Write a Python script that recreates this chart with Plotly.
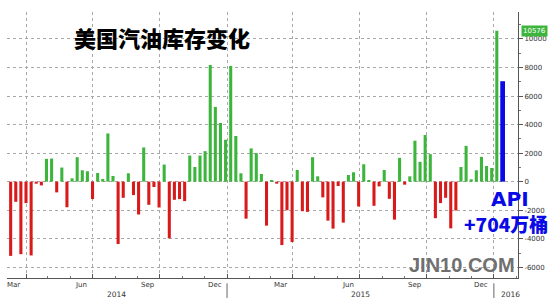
import pandas as pd
import plotly.graph_objects as go

# ---------------- data ----------------
week_start = "2014-03-11"
weekly_change = [
    -5200, -1410, -5080, -1500, -5170, -140, -260, 1600, 1620, -750,
    990, -1790, 235, 1715, 800, 730, -1220, 610, 190, 3380,
    400, -4370, -1130, 590, -940, -2300, 2400, -1620, -375, -1810,
    1200, -3970, -1270, -1220, -1360, 1830, 1030, 1830, 2140, 8180,
    5240, 4110, 2940, 8110, 3200, 590, -2590, 2330, 2000, 540,
    -3080, 95, -140, -4440, -2000, -4230, 820, -2070, -2115, 1715,
    375, -1100, -2730, -3290, -305, -2870, 470, 660, -1740, 1220,
    95, -1690, -330, 820, -1200, -2660, 1670, -210, 375, 2870,
    1390, 3270, 1930, -2560, -1500, -1130, -3270, -2020, 1030, 2510,
    165, 800, 1740, 1100, 960, 10576,
]
api_date = ["2016-01-13"]
api_value = [7040]
last_label = "10576"

month_label_dates = ["2014-03-15", "2014-06-15", "2014-09-15", "2014-12-15",
                     "2015-03-15", "2015-06-15", "2015-09-15", "2015-12-15"]
month_labels = ["Mar", "Jun", "Sep", "Dec", "Mar", "Jun", "Sep", "Dec"]
quarter_starts = ["2014-04-01", "2014-07-01", "2014-10-01", "2015-01-01",
                  "2015-04-01", "2015-07-01", "2015-10-01", "2016-01-01"]
year_labels = ["2014", "2015", "2016"]
year_label_dates = ["2014-08-03", "2015-07-02", "2016-01-01"]
year_starts = ["2015-01-01", "2016-01-01"]
y_ticks = [-6000, -4000, -2000, 0, 2000, 4000, 6000, 8000, 10000]

title_text = "美国汽油库存变化"
api_line1 = "API"
api_line2 = "+704万桶"
watermark = "JIN10.COM"

# ---------------- styles ----------------
GREEN = "#3db53d"
RED = "#d91a1a"
BLUE = "#0a0ae6"
DAY_MS = 86400000

dates = pd.date_range(week_start, periods=len(weekly_change), freq="7D")
colors = [GREEN if v >= 0 else RED for v in weekly_change]

fig = go.Figure()
fig.add_trace(go.Bar(x=dates, y=weekly_change, marker_color=colors,
                     marker_line_width=0, width=4.2 * DAY_MS,
                     showlegend=False, hoverinfo="x+y"))
fig.add_trace(go.Bar(x=pd.to_datetime(api_date), y=api_value, marker_color=BLUE,
                     marker_line_width=0, width=6.5 * DAY_MS,
                     showlegend=False))

annotations = []
for d, t in zip(month_label_dates, month_labels):
    annotations.append(dict(x=d, xref="x", y=0, yref="paper", text=t,
                            showarrow=False, yanchor="top", yshift=-1,
                            font=dict(family="DejaVu Sans", size=7, color="#333")))
for i, (d, t) in enumerate(zip(year_label_dates, year_labels)):
    annotations.append(dict(x=d, xref="x", y=0, yref="paper", text=t,
                            showarrow=False, yanchor="top", yshift=-10,
                            xanchor="left" if i == 2 else "center",
                            xshift=5 if i == 2 else 0,
                            font=dict(family="DejaVu Sans", size=7.5, color="#333")))
annotations.append(dict(x=0.304, xref="paper", y=0.905, yref="paper",
                        text=title_text, showarrow=False,
                        xanchor="center", yanchor="middle",
                        font=dict(family="Noto Sans CJK SC", size=22, color="#000",
                                  weight=900)))
annotations.append(dict(x=1.0, xref="paper", y=-1200, yref="y",
                        text=api_line1, showarrow=False,
                        xanchor="center", yanchor="middle", xshift=-8,
                        font=dict(family="DejaVu Sans", size=20, color=BLUE,
                                  weight="bold")))
annotations.append(dict(x=1.0, xref="paper", y=-2900, yref="y",
                        text=api_line2, showarrow=False,
                        xanchor="center", yanchor="middle", xshift=-12,
                        font=dict(family="Noto Sans CJK SC", size=19, color=BLUE,
                                  weight=900)))
annotations.append(dict(x=1.0, xref="paper", y=weekly_change[-1], yref="y",
                        text=last_label, showarrow=False, xanchor="left",
                        yanchor="middle", xshift=3, bgcolor=GREEN, borderpad=1,
                        font=dict(family="DejaVu Sans", size=7, color="#fff")))
annotations.append(dict(x=0.89, xref="paper", y=-5850, yref="y",
                        text=watermark, showarrow=False, xanchor="center",
                        yanchor="middle",
                        font=dict(family="Liberation Sans", size=20, color="#707070",
                                  weight=600)))

shapes = []
for d in year_starts:
    shapes.append(dict(type="line", xref="x", yref="paper", x0=d, x1=d,
                       y0=-0.02, y1=-0.075, line=dict(color="#666", width=1)))

fig.update_layout(
    width=554, height=305,
    margin=dict(l=7, r=34, t=12, b=27),
    paper_bgcolor="white", plot_bgcolor="white",
    barmode="overlay",
    showlegend=False,
    annotations=annotations,
    shapes=shapes,
    xaxis=dict(
        type="date", range=["2014-03-06", "2016-02-03"],
        tickmode="array", tickvals=quarter_starts, showticklabels=False,
        showgrid=True, gridcolor="#a8a8a8", griddash="dot", gridwidth=1,
        showline=True, linecolor="#555", linewidth=1,
        ticks="inside", ticklen=4, tickcolor="#555",
        minor=dict(dtick="M1", tick0="2014-01-01", ticks="inside",
                   ticklen=2, tickcolor="#777", showgrid=False),
        zeroline=False,
    ),
    yaxis=dict(
        side="right", range=[-6750, 11890],
        tickmode="array", tickvals=y_ticks,
        ticktext=[str(v) for v in y_ticks],
        showgrid=True, gridcolor="#a8a8a8", griddash="dot", gridwidth=1,
        zeroline=False, showline=True, linecolor="#555", linewidth=1,
        ticks="outside", ticklen=4, tickcolor="#555",
        minor=dict(dtick=1000, ticks="outside", ticklen=2, tickcolor="#777",
                   showgrid=False),
        tickfont=dict(family="DejaVu Sans", size=7, color="#333"),
    ),
)

fig.write_html("out.html")
